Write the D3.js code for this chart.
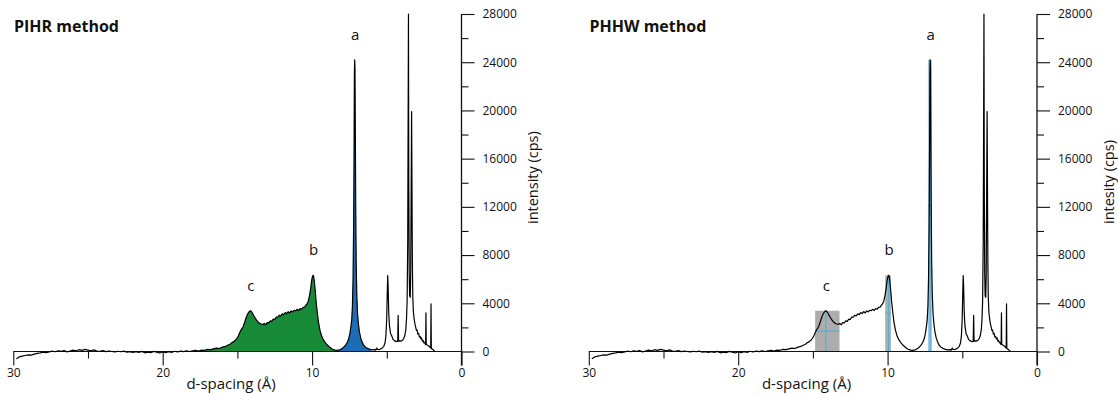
<!DOCTYPE html>
<html>
<head>
<meta charset="utf-8">
<script src="https://cdn.jsdelivr.net/npm/d3@7"></script>
<style>
  body { margin: 0; background: #fff; }
  svg { display: block; }
  text { font-family: "Open Sans", sans-serif; fill: #111; }
</style>
</head>
<body>
<script>
// XRD pattern: [d-spacing (Å), intensity (cps)]
const pattern = [
  [29.8, -600], [29.6, -450], [29.4, -380], [29.2, -330], [29.0, -280], [28.8, -300],
  [28.6, -220], [28.4, -150], [28.2, -120], [28.0, -60], [27.8, -100], [27.6, -40],
  [27.4, 30], [27.2, -20], [27.0, 60], [26.8, 20], [26.6, 80], [26.4, -30],
  [26.2, 40], [26.0, 110], [25.8, 60], [25.6, 150], [25.4, 90], [25.2, 180],
  [25.0, 120], [24.8, 60], [24.6, 130], [24.4, 40], [24.2, 20], [24.0, 70],
  [23.8, -10], [23.6, 40], [23.4, 0], [23.2, -40], [23.0, 20], [22.8, -20],
  [22.6, 30], [22.4, -60], [22.2, -10], [22.0, -80], [21.8, -20], [21.6, -70],
  [21.4, 10], [21.2, -110], [21.0, -50], [20.8, -90], [20.6, 10], [20.4, -60],
  [20.2, -120], [20.0, -40], [19.8, -90], [19.6, -20], [19.4, -70], [19.2, 20],
  [19.0, -40], [18.8, 30], [18.6, -10], [18.4, 50], [18.2, 0], [18.0, 60],
  [17.8, 90], [17.6, 40], [17.4, 120], [17.2, 100], [17.0, 180], [16.8, 150],
  [16.6, 220], [16.4, 280], [16.2, 250], [16.0, 360], [15.8, 420], [15.65, 520],
  [15.5, 600], [15.38, 720], [15.25, 820], [15.12, 950], [15.03, 1100], [14.93, 1300],
  [14.85, 1550], [14.75, 1800], [14.62, 2050], [14.52, 2400], [14.42, 2800], [14.32, 3100],
  [14.22, 3300], [14.14, 3380], [14.06, 3320], [13.98, 3150], [13.9, 2950], [13.82, 2800],
  [13.72, 2600], [13.62, 2450], [13.5, 2320], [13.4, 2280], [13.3, 2240], [13.2, 2330],
  [13.1, 2220], [13.0, 2400], [12.9, 2380], [12.8, 2540], [12.7, 2500], [12.6, 2680],
  [12.5, 2650], [12.4, 2860], [12.3, 2850], [12.2, 3010], [12.1, 2950], [12.0, 3120],
  [11.9, 3060], [11.8, 3230], [11.7, 3150], [11.6, 3300], [11.5, 3200], [11.4, 3370],
  [11.3, 3280], [11.2, 3420], [11.1, 3380], [11.0, 3500], [10.9, 3410], [10.8, 3560],
  [10.7, 3510], [10.6, 3660], [10.5, 3680], [10.42, 3820], [10.34, 3950], [10.26, 4150],
  [10.18, 4600], [10.1, 5200], [10.03, 5900], [9.97, 6250], [9.93, 6320], [9.89, 6200],
  [9.84, 5700], [9.78, 4900], [9.72, 4000], [9.65, 3200], [9.57, 2400], [9.47, 1750],
  [9.38, 1350], [9.28, 1050], [9.14, 780], [9.0, 560], [8.85, 400], [8.69, 230],
  [8.55, 150], [8.45, 110], [8.35, 90], [8.25, 120], [8.15, 140], [8.05, 200],
  [7.95, 290], [7.85, 400], [7.75, 550], [7.65, 750], [7.55, 1050], [7.47, 1500],
  [7.4, 2100], [7.35, 2600], [7.3, 3800], [7.26, 6000], [7.22, 10500], [7.19, 17000],
  [7.17, 23000], [7.15, 24200], [7.13, 23500], [7.11, 19000], [7.08, 12000], [7.05, 7500],
  [7.01, 4800], [6.96, 3200], [6.9, 2300], [6.83, 1600], [6.75, 1150], [6.65, 780],
  [6.55, 520], [6.42, 360], [6.3, 260], [6.18, 200], [6.05, 160], [5.95, 130],
  [5.85, 150], [5.75, 110], [5.67, 280], [5.62, 180], [5.5, 160], [5.4, 220],
  [5.3, 300], [5.2, 430], [5.12, 700], [5.06, 1300], [5.01, 2600], [4.97, 4800],
  [4.94, 6300], [4.91, 5400], [4.87, 3200], [4.82, 2100], [4.75, 1500], [4.67, 1300],
  [4.58, 1000], [4.5, 900], [4.42, 860], [4.34, 820], [4.27, 840], [4.24, 3000],
  [4.21, 850], [4.15, 880], [4.08, 860], [4.0, 900], [3.93, 950], [3.86, 1100],
  [3.79, 1350], [3.73, 1800], [3.68, 2700], [3.64, 4200], [3.6, 9000], [3.57, 20000],
  [3.55, 28000], [3.53, 14000], [3.5, 6500], [3.47, 4600], [3.43, 4500], [3.4, 6500],
  [3.37, 13000], [3.34, 19900], [3.32, 15000], [3.29, 7500], [3.26, 4500], [3.22, 3300],
  [3.17, 2700], [3.12, 2300], [3.07, 2050], [3.02, 1750], [2.97, 1780], [2.92, 1450],
  [2.87, 1500], [2.82, 1200], [2.77, 1260], [2.72, 1050], [2.67, 1120], [2.62, 860],
  [2.57, 920], [2.52, 720], [2.47, 760], [2.42, 600], [2.4, 580], [2.38, 3200],
  [2.36, 600], [2.32, 560], [2.27, 520], [2.22, 480], [2.17, 430], [2.12, 380],
  [2.08, 300], [2.06, 280], [2.04, 3950], [2.02, 260], [1.97, 200], [1.92, 180],
  [1.87, 120], [1.82, 40], [1.79, 0]
];

const xMajorTicks = [30, 20, 10, 0];
const xMinorTicks = [25, 15, 5];
const yMajorTicks = [0, 4000, 8000, 12000, 16000, 20000, 24000, 28000];
const yMinorTicks = [2000, 6000, 10000, 14000, 18000, 22000, 26000];

const panelTitles = ["PIHR method", "PHHW method"];
const yAxisTitles = ["intensity (cps)", "intesity (cps)"];

// labelled reflections
const peakLabels = ["a", "b", "c"];
const peakD = [7.15, 9.93, 14.14];
const peakHeight = [24200, 6320, 3380];
// half-height width limits used in the PHHW panel
const widthHigh = [7.30, 10.16, 14.85];
const widthLow = [7.03, 9.78, 13.22];

// integrated ranges in the PIHR panel
const greenRange = [17.2, 8.42];
const blueRange = [8.28, 5.98];

const W = 1118, H = 394;
const svg = d3.select("body").append("svg").attr("width", W).attr("height", H);

const x = d3.scaleLinear().domain([30, 0]).range([13.3, 461.5]);
const y = d3.scaleLinear().domain([0, 28000]).range([351.5, 14]);

const line = d3.line().x((d) => x(d[0])).y((d) => y(d[1]));
const area = d3.area().x((d) => x(d[0])).y0(y(0)).y1((d) => y(d[1]));

const drawPanel = (g, idx) => {
  // fills / width boxes first
  if (idx === 0) {
    g.append("path")
      .datum(pattern.filter((p) => p[0] <= greenRange[0] && p[0] >= greenRange[1]))
      .attr("fill", "#168a37")
      .attr("d", area);
    g.append("path")
      .datum(pattern.filter((p) => p[0] <= blueRange[0] && p[0] >= blueRange[1]))
      .attr("fill", "#1c6db6")
      .attr("d", area);
  } else {
    peakLabels.forEach((lab, i) => {
      g.append("rect")
        .attr("x", x(widthHigh[i]))
        .attr("y", y(peakHeight[i]))
        .attr("width", x(widthLow[i]) - x(widthHigh[i]))
        .attr("height", y(0) - y(peakHeight[i]))
        .attr("fill", lab === "a" ? "#a9c7df" : "#adadae");
      // cross: peak position and half height
      g.append("line")
        .attr("x1", x(peakD[i])).attr("x2", x(peakD[i]))
        .attr("y1", y(0)).attr("y2", y(peakHeight[i]))
        .attr("stroke", "#4fb4dc").attr("stroke-width", 1.3);
      g.append("line")
        .attr("x1", x(widthHigh[i])).attr("x2", x(widthLow[i]))
        .attr("y1", y(peakHeight[i] / 2)).attr("y2", y(peakHeight[i] / 2))
        .attr("stroke", "#4fb4dc").attr("stroke-width", 1.3);
    });
  }

  // axes
  const xAxis = g.append("g")
    .attr("transform", `translate(0,${y(0)})`)
    .call(d3.axisBottom(x).tickValues(xMajorTicks).tickSize(14).tickPadding(3).tickFormat(d3.format("d")));
  g.append("g")
    .attr("transform", `translate(0,${y(0)})`)
    .call(d3.axisBottom(x).tickValues(xMinorTicks).tickSize(7).tickFormat(""));
  const yAxis = g.append("g")
    .attr("transform", `translate(${x(0)},0)`)
    .call(d3.axisRight(y).tickValues(yMajorTicks).tickSize(13).tickPadding(8).tickFormat(d3.format("d")));
  g.append("g")
    .attr("transform", `translate(${x(0)},0)`)
    .call(d3.axisRight(y).tickValues(yMinorTicks).tickSize(7).tickFormat(""));
  g.selectAll(".domain").remove();
  g.selectAll(".tick line").attr("stroke", "#111").attr("stroke-width", 1.1);
  xAxis.selectAll("text").attr("font-size", 12).attr("font-family", "Open Sans").attr("fill", "#222");
  yAxis.selectAll("text").attr("font-size", 12).attr("font-family", "Open Sans").attr("fill", "#222");

  g.append("line")
    .attr("x1", x(30)).attr("x2", x(0))
    .attr("y1", y(0)).attr("y2", y(0))
    .attr("stroke", "#111").attr("stroke-width", 1.1);
  g.append("line")
    .attr("x1", x(0)).attr("x2", x(0))
    .attr("y1", y(28000)).attr("y2", y(0) + 14)
    .attr("stroke", "#111").attr("stroke-width", 1.3);

  // pattern
  g.append("path")
    .datum(pattern)
    .attr("fill", "none")
    .attr("stroke", "#000")
    .attr("stroke-width", 1.2)
    .attr("stroke-linejoin", "round")
    .attr("d", line);

  // peak letters
  peakLabels.forEach((lab, i) => {
    g.append("text")
      .attr("x", x(peakD[i]) + 0.5)
      .attr("y", y(peakHeight[i]) - 20)
      .attr("text-anchor", "middle")
      .attr("font-size", 15)
      .text(lab);
  });

  g.append("text")
    .attr("x", 14).attr("y", 32)
    .attr("font-size", 16).attr("font-weight", "bold")
    .text(panelTitles[idx]);

  g.append("text")
    .attr("x", 231).attr("y", 389)
    .attr("text-anchor", "middle")
    .attr("font-size", 15)
    .text("d-spacing (Å)");

  g.append("text")
    .attr("transform", `translate(538,224) rotate(-90)`)
    .attr("font-size", 14.5)
    .text(yAxisTitles[idx]);
};

[0, 575.5].forEach((dx, i) => {
  drawPanel(svg.append("g").attr("transform", `translate(${dx},0)`), i);
});
</script>
</body>
</html>
